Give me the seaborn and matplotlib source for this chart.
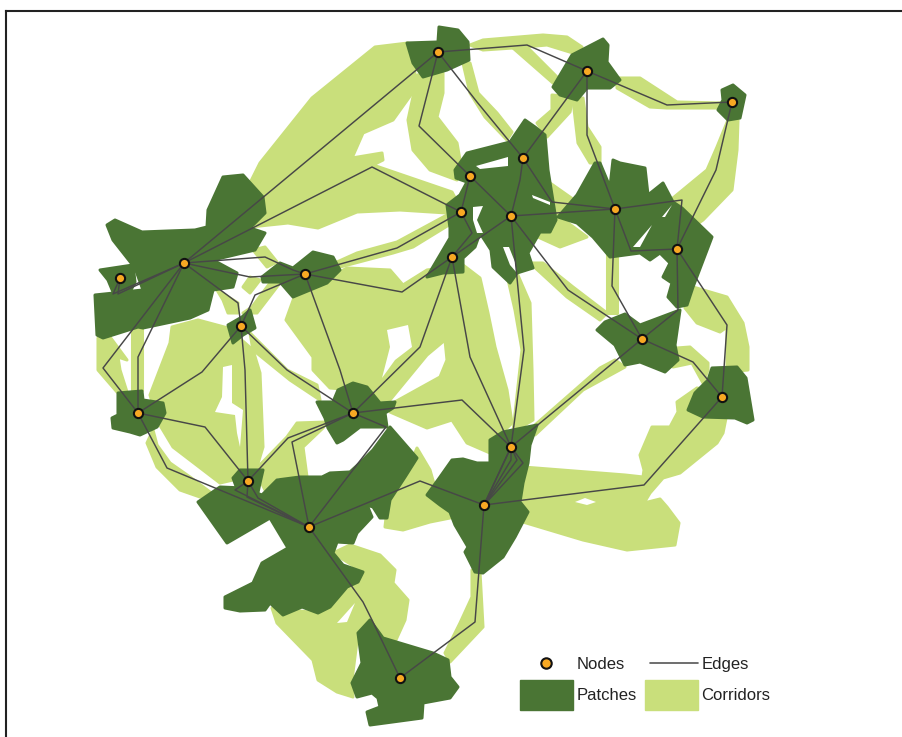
import pandas as pd
import seaborn as sns
import matplotlib.pyplot as plt
from matplotlib.legend_handler import HandlerLine2D
from matplotlib.lines import Line2D
from matplotlib.patches import Patch

dark = '#4a7534'
light = '#c9df7b'
orange = '#f7a823'
edge_col = '#474747'

# nodes
node_x = [438, 587, 732, 523, 470, 461, 511, 615, 677, 452, 184, 305, 120, 241, 642, 722, 138, 353, 511, 248, 484, 309, 400]
node_y = [52, 71, 102, 158, 176, 212, 216, 209, 249, 257, 263, 274, 278, 326, 339, 397, 413, 413, 447, 481, 505, 527, 678]

# edges, each one a path with its bends
edges = [
    [(184, 263), (438, 52)],
    [(184, 263), (372, 167), (461, 212)],
    [(184, 263), (265, 257), (293, 270), (305, 274)],
    [(184, 263), (250, 277), (305, 274)],
    [(184, 263), (238, 303), (241, 326)],
    [(184, 263), (113, 294), (120, 278)],
    [(184, 263), (118, 294), (120, 278)],
    [(184, 263), (103, 368), (138, 413)],
    [(184, 263), (138, 357), (138, 413)],
    [(305, 274), (255, 295), (247, 313), (241, 326)],
    [(305, 274), (328, 337), (340, 370), (353, 413)],
    [(305, 274), (402, 292), (452, 257)],
    [(305, 274), (397, 248), (461, 212)],
    [(241, 326), (245, 370), (248, 481)],
    [(241, 326), (287, 370), (353, 413)],
    [(241, 326), (202, 372), (138, 413)],
    [(138, 413), (205, 427), (248, 481)],
    [(138, 413), (167, 468), (309, 527)],
    [(248, 481), (235, 490), (309, 527)],
    [(248, 481), (247, 497), (309, 527)],
    [(248, 481), (258, 498), (309, 527)],
    [(248, 481), (288, 438), (353, 413)],
    [(353, 413), (292, 442), (309, 527)],
    [(353, 413), (386, 427), (309, 527)],
    [(353, 413), (462, 400), (511, 447)],
    [(452, 257), (420, 347), (353, 413)],
    [(452, 257), (470, 357), (511, 447)],
    [(461, 212), (470, 176)],
    [(461, 212), (472, 233), (452, 257)],
    [(511, 216), (452, 257)],
    [(470, 176), (511, 216)],
    [(470, 176), (419, 126), (438, 52)],
    [(438, 52), (477, 102), (523, 158)],
    [(438, 52), (527, 45), (587, 71)],
    [(587, 71), (523, 158)],
    [(587, 71), (667, 105), (732, 102)],
    [(587, 71), (587, 135), (615, 209)],
    [(732, 102), (716, 170), (677, 249)],
    [(523, 158), (520, 180), (511, 216)],
    [(523, 158), (552, 202), (615, 209)],
    [(511, 216), (615, 209)],
    [(615, 209), (682, 200), (677, 249)],
    [(615, 209), (631, 251), (677, 249)],
    [(615, 209), (612, 286), (642, 339)],
    [(511, 216), (568, 290), (642, 339)],
    [(511, 216), (524, 350), (511, 447)],
    [(677, 249), (678, 310), (642, 339)],
    [(677, 249), (727, 325), (722, 397)],
    [(642, 339), (693, 362), (722, 397)],
    [(642, 339), (511, 447)],
    [(722, 397), (644, 485), (484, 505)],
    [(511, 447), (484, 505)],
    [(511, 447), (505, 460), (484, 505)],
    [(511, 447), (511, 460), (484, 505)],
    [(511, 447), (517, 460), (484, 505)],
    [(511, 447), (523, 463), (484, 505)],
    [(484, 505), (420, 481), (309, 527)],
    [(484, 505), (475, 622), (400, 678)],
    [(309, 527), (363, 602), (372, 620), (400, 678)],
]

# corridors
corridor_nw = [(250, 183), (260, 163), (312, 98), (375, 47), (408, 43), (415, 70), (413, 92), (393, 120), (363, 133), (352, 158), (382, 153), (383, 160), (373, 165), (452, 192), (460, 207), (447, 213), (400, 210), (357, 212), (318, 228), (288, 223), (250, 227)]
corridor_ne_strip = [(337, 262), (357, 253), (397, 242), (447, 215), (457, 220), (413, 247), (393, 253), (340, 267)]
corridor_north_a = [(417, 75), (443, 73), (443, 93), (437, 117), (457, 143), (460, 160), (453, 170), (457, 180), (430, 170), (413, 150), (408, 120), (413, 97)]
corridor_north_b = [(463, 63), (470, 63), (478, 93), (497, 113), (512, 132), (507, 140), (485, 117), (470, 93)]
corridor_top = [(470, 45), (483, 40), (543, 35), (567, 37), (582, 47), (573, 53), (547, 45), (513, 48), (483, 50)]
corridor_top_branch = [(513, 48), (528, 48), (557, 77), (553, 83)]
corridor_east_top = [(617, 78), (640, 78), (677, 102), (722, 103), (720, 108), (667, 108), (650, 107), (617, 88)]
corridor_mid_a = [(552, 95), (573, 97), (570, 112), (547, 137), (537, 123), (552, 110)]
corridor_mid_b = [(573, 100), (583, 98), (587, 127), (600, 147), (600, 163), (590, 163), (578, 143)]
corridor_east = [(728, 120), (738, 120), (737, 150), (732, 190), (703, 220), (693, 227), (673, 198), (707, 170), (717, 147)]
corridor_inner = [(550, 183), (577, 202), (560, 217), (587, 237), (560, 247), (538, 237)]
corridor_col = [(607, 253), (617, 253), (617, 313), (607, 313)]
corridor_diag = [(530, 263), (543, 263), (573, 287), (607, 313), (600, 320), (567, 297)]
corridor_south_col = [(507, 275), (517, 273), (530, 303), (532, 370), (533, 420), (513, 432), (522, 350), (515, 310)]
corridor_center = [(286, 320), (295, 295), (338, 273), (347, 268), (390, 270), (403, 285), (427, 270), (463, 265), (480, 278), (488, 313), (495, 347), (507, 390), (512, 423), (493, 442), (490, 453), (467, 443), (452, 420), (427, 428), (390, 412), (393, 403), (440, 377), (447, 360), (445, 340), (427, 355), (390, 400), (377, 402), (355, 390), (330, 388), (313, 370), (313, 357)]
corridor_se = [(523, 467), (625, 475), (643, 477), (644, 470), (640, 455), (652, 427), (670, 427), (678, 412), (677, 402), (697, 388), (707, 390), (727, 413), (723, 433), (717, 443), (680, 473), (663, 478), (650, 493), (644, 503), (660, 499), (667, 507), (679, 523), (675, 545), (627, 550), (583, 540), (523, 522)]
corridor_far_east = [(693, 287), (727, 297), (743, 323), (748, 347), (748, 370), (727, 372), (727, 327), (720, 332), (697, 323), (685, 308)]
corridor_far_east_b = [(677, 348), (690, 347), (708, 363), (708, 370), (703, 383), (692, 363), (673, 367)]
corridor_642 = [(535, 425), (600, 368), (615, 360), (625, 367), (583, 390), (535, 435)]
corridor_w_a = [(98, 338), (110, 337), (127, 360), (118, 357), (120, 370), (127, 392), (117, 392), (98, 370)]
corridor_w_col = [(132, 328), (142, 328), (142, 390), (132, 390)]
corridor_west = [(172, 327), (198, 320), (228, 328), (253, 350), (260, 373), (263, 447), (253, 480), (233, 480), (220, 483), (190, 460), (173, 447), (158, 422), (150, 395), (170, 343)]
corridor_w_strip = [(153, 430), (157, 445), (170, 463), (190, 477), (210, 492), (200, 497), (180, 490), (157, 467), (147, 443)]
corridor_241_353 = [(250, 333), (287, 370), (317, 385), (320, 400), (290, 380), (253, 350)]
corridor_248_353 = [(255, 470), (287, 437), (297, 423), (327, 422), (323, 428), (303, 447), (307, 477), (277, 477), (265, 490)]
corridor_s_east = [(405, 477), (417, 448), (430, 470), (440, 505), (455, 517), (430, 522), (403, 530), (385, 527), (388, 500)]
corridor_south = [(333, 553), (350, 545), (380, 555), (395, 570), (393, 583), (408, 600), (405, 620), (395, 642), (383, 638), (372, 620), (358, 633), (352, 680), (353, 697), (337, 692), (318, 680), (313, 660), (277, 623), (272, 608), (318, 613), (347, 587), (363, 572)]
corridor_484_400 = [(472, 570), (480, 572), (483, 627), (450, 662), (445, 653), (460, 623), (472, 597)]
corridor_s1 = [(253, 250), (265, 247), (277, 262), (267, 267)]
corridor_s2 = [(217, 290), (238, 303), (238, 313), (228, 313), (223, 300)]
corridor_s3 = [(243, 313), (252, 307), (270, 283), (280, 283), (257, 313)]
corridor_s4 = [(243, 287), (250, 277), (260, 280), (250, 293)]
corridors = [corridor_nw, corridor_ne_strip, corridor_north_a, corridor_north_b, corridor_top, corridor_top_branch,
             corridor_east_top, corridor_mid_a, corridor_mid_b, corridor_east, corridor_inner, corridor_col, corridor_diag,
             corridor_south_col, corridor_center, corridor_se, corridor_far_east, corridor_far_east_b, corridor_642,
             corridor_w_a, corridor_w_col, corridor_west, corridor_w_strip, corridor_241_353, corridor_248_353,
             corridor_s_east, corridor_south, corridor_484_400, corridor_s1, corridor_s2, corridor_s3, corridor_s4]

# white gaps inside the corridors
corridor_gaps = [
    [(387, 330), (408, 325), (412, 347), (395, 360), (382, 378), (390, 347)],
    [(575, 502), (585, 498), (596, 502), (587, 505)],
    [(223, 367), (232, 365), (232, 403), (243, 410), (240, 447), (237, 433), (235, 415), (215, 412), (222, 397)],
    [(337, 623), (355, 603), (347, 622)],
]

# patches
patch_north = [(407, 43), (438, 42), (439, 27), (458, 30), (468, 42), (469, 60), (447, 70), (423, 77), (413, 63)]
patch_ne = [(553, 87), (572, 55), (603, 39), (608, 45), (607, 62), (620, 80), (610, 88), (587, 88), (577, 100), (560, 95)]
patch_corner = [(722, 90), (733, 85), (745, 95), (740, 118), (728, 120), (718, 110), (723, 100)]
patch_central = [(455, 170), (467, 153), (510, 142), (525, 120), (535, 127), (545, 135), (548, 170), (552, 195), (556, 220), (550, 232), (540, 232), (528, 253), (533, 268), (517, 273), (510, 283), (493, 267), (491, 250), (480, 233), (475, 247), (463, 258), (463, 272), (443, 273), (427, 277), (440, 255), (450, 238), (450, 228), (447, 205), (460, 195), (467, 182), (456, 178)]
patch_east = [(558, 217), (577, 195), (595, 163), (600, 163), (610, 187), (613, 160), (620, 163), (645, 168), (648, 195), (663, 183), (673, 202), (682, 208), (712, 237), (693, 287), (687, 305), (677, 307), (668, 297), (672, 283), (663, 277), (670, 263), (660, 253), (650, 260), (640, 253), (610, 257), (593, 237), (577, 223)]
patch_642 = [(597, 330), (605, 322), (625, 314), (640, 325), (680, 310), (675, 345), (678, 360), (665, 372), (640, 362), (625, 365), (615, 345)]
patch_722 = [(688, 410), (695, 393), (708, 380), (712, 368), (737, 367), (746, 378), (753, 420), (747, 423), (735, 418), (703, 417)]
patch_484 = [(427, 495), (440, 477), (452, 460), (463, 459), (477, 463), (490, 463), (490, 440), (503, 432), (537, 425), (530, 445), (528, 463), (523, 483), (520, 502), (528, 512), (515, 537), (503, 557), (483, 573), (475, 572), (465, 552), (468, 547), (455, 525), (450, 512), (440, 505)]
patch_353 = [(317, 402), (333, 402), (338, 390), (353, 383), (367, 387), (380, 403), (395, 402), (393, 408), (385, 413), (387, 427), (360, 427), (343, 440), (337, 443), (328, 428), (325, 418)]
patch_138 = [(118, 393), (142, 391), (143, 400), (163, 403), (165, 413), (157, 427), (140, 435), (130, 432), (113, 428), (112, 418), (118, 415)]
patch_248 = [(233, 478), (240, 470), (263, 470), (260, 483), (257, 497), (240, 497)]
patch_309 = [(198, 502), (220, 487), (243, 488), (262, 495), (277, 480), (300, 477), (322, 477), (330, 473), (350, 472), (363, 460), (373, 450), (390, 427), (417, 458), (405, 477), (390, 500), (387, 518), (380, 518), (373, 507), (367, 505), (372, 517), (357, 533), (353, 543), (337, 542), (333, 553), (343, 565), (363, 572), (358, 582), (347, 587), (330, 607), (318, 613), (302, 607), (283, 615), (270, 603), (265, 610), (240, 611), (225, 608), (225, 597), (253, 583), (262, 563), (288, 548), (270, 518), (227, 543)]
patch_400 = [(358, 633), (370, 620), (383, 638), (423, 650), (433, 653), (448, 660), (450, 677), (458, 687), (450, 698), (423, 703), (422, 718), (370, 725), (367, 712), (380, 707), (378, 698), (372, 693), (357, 697), (352, 683), (362, 663)]
patch_241 = [(228, 325), (242, 317), (250, 310), (255, 328), (243, 335), (233, 343), (230, 332)]
patch_305 = [(262, 277), (280, 263), (293, 268), (313, 252), (333, 257), (340, 270), (327, 283), (293, 297), (280, 282), (263, 282)]
patch_184 = [(107, 225), (115, 220), (142, 232), (195, 230), (207, 227), (208, 210), (223, 177), (243, 175), (263, 197), (265, 213), (250, 228), (265, 233), (255, 250), (213, 260), (237, 273), (233, 287), (213, 290), (208, 310), (190, 318), (143, 328), (138, 327), (103, 338), (97, 335), (95, 295), (143, 290), (135, 268), (113, 240)]
patch_120 = [(100, 270), (133, 265), (135, 282), (130, 292), (113, 292), (108, 280)]
patches = [patch_north, patch_ne, patch_corner, patch_central, patch_east, patch_642, patch_722, patch_484, patch_353,
           patch_138, patch_248, patch_309, patch_400, patch_241, patch_305, patch_184, patch_120]

# white gaps inside the patches
patch_gaps = [
    [(476, 166), (508, 157), (508, 166), (480, 169)],
    [(532, 195), (550, 202), (550, 205), (533, 198)],
    [(473, 207), (483, 206), (477, 220), (483, 233), (477, 233), (473, 220)],
    [(503, 247), (509, 247), (515, 262), (517, 273), (510, 265)],
    [(662, 217), (672, 205), (665, 217)],
    [(633, 247), (652, 225), (640, 247)],
]

sns.set_theme(style='white')
plt.rcParams['font.family'] = ['Liberation Sans', 'DejaVu Sans']

fig = plt.figure(figsize=(9.03, 7.37), dpi=100)
ax = fig.add_axes([6 / 903, 0, 897 / 903, 726 / 737])


def fill_all(shapes, color, z, stroke):
    for shape in shapes:
        xs, ys = zip(*shape)
        ax.fill(xs, ys, facecolor=color, edgecolor=color if stroke else 'none', linewidth=stroke,
                joinstyle='round', zorder=z)


# the thick round stroke takes the sharp corners off the traced outlines
fill_all(corridors, light, 1, 2.2)
fill_all(corridor_gaps, 'white', 2, 0)
fill_all(patches, dark, 3, 2.2)
fill_all(patch_gaps, 'white', 4, 0)

rows = []
for i, path in enumerate(edges):
    for x, y in path:
        rows.append({'edge': i, 'x': x, 'y': y})
edge_df = pd.DataFrame(rows)
sns.lineplot(data=edge_df, x='x', y='y', units='edge', estimator=None, sort=False,
             color=edge_col, linewidth=1.05, legend=False, ax=ax, zorder=5)
sns.scatterplot(x=node_x, y=node_y, s=44, color=orange, edgecolor='#111111', linewidth=1.5,
                legend=False, ax=ax, zorder=6)

ax.set_xlim(6, 903)
ax.set_ylim(737, 11)
ax.set_xlabel('')
ax.set_ylabel('')
ax.set_xticks([])
ax.set_yticks([])
sns.despine(ax=ax, top=False, left=False, right=True, bottom=True)
for side in ['top', 'left']:
    ax.spines[side].set_color('#222222')
    ax.spines[side].set_linewidth(1.5)


# legend lines and markers sit a little lower than matplotlib puts them
class LowLine(HandlerLine2D):
    def adjust_drawing_area(self, legend, orig_handle, xdescent, ydescent, width, height, fontsize):
        xd, yd, w, h = super().adjust_drawing_area(legend, orig_handle, xdescent, ydescent, width, height, fontsize)
        return xd, yd + 5.8, w, h


node_handle = Line2D([], [], marker='o', linestyle='none', ms=7.5, mfc=orange, mec='#111111', mew=1.5)
edge_handle = Line2D([], [], color='#555555', linewidth=1.2)
handles = [node_handle, Patch(facecolor=dark, edgecolor=dark), edge_handle, Patch(facecolor=light, edgecolor=light)]
labels = ['Nodes', 'Patches', 'Edges', 'Corridors']
ax.legend(handles, labels, ncols=2, frameon=False, loc='upper left',
          bbox_to_anchor=(520, 649), bbox_transform=ax.transData,
          fontsize=12, labelcolor='#222222', borderpad=0, borderaxespad=0,
          handlelength=3.18, handleheight=2.35, handletextpad=0.2,
          columnspacing=0.5, labelspacing=0.1,
          handler_map={node_handle: LowLine(), edge_handle: LowLine(xpad=0.3)})

fig.savefig('out.png', dpi=100, facecolor='white')
